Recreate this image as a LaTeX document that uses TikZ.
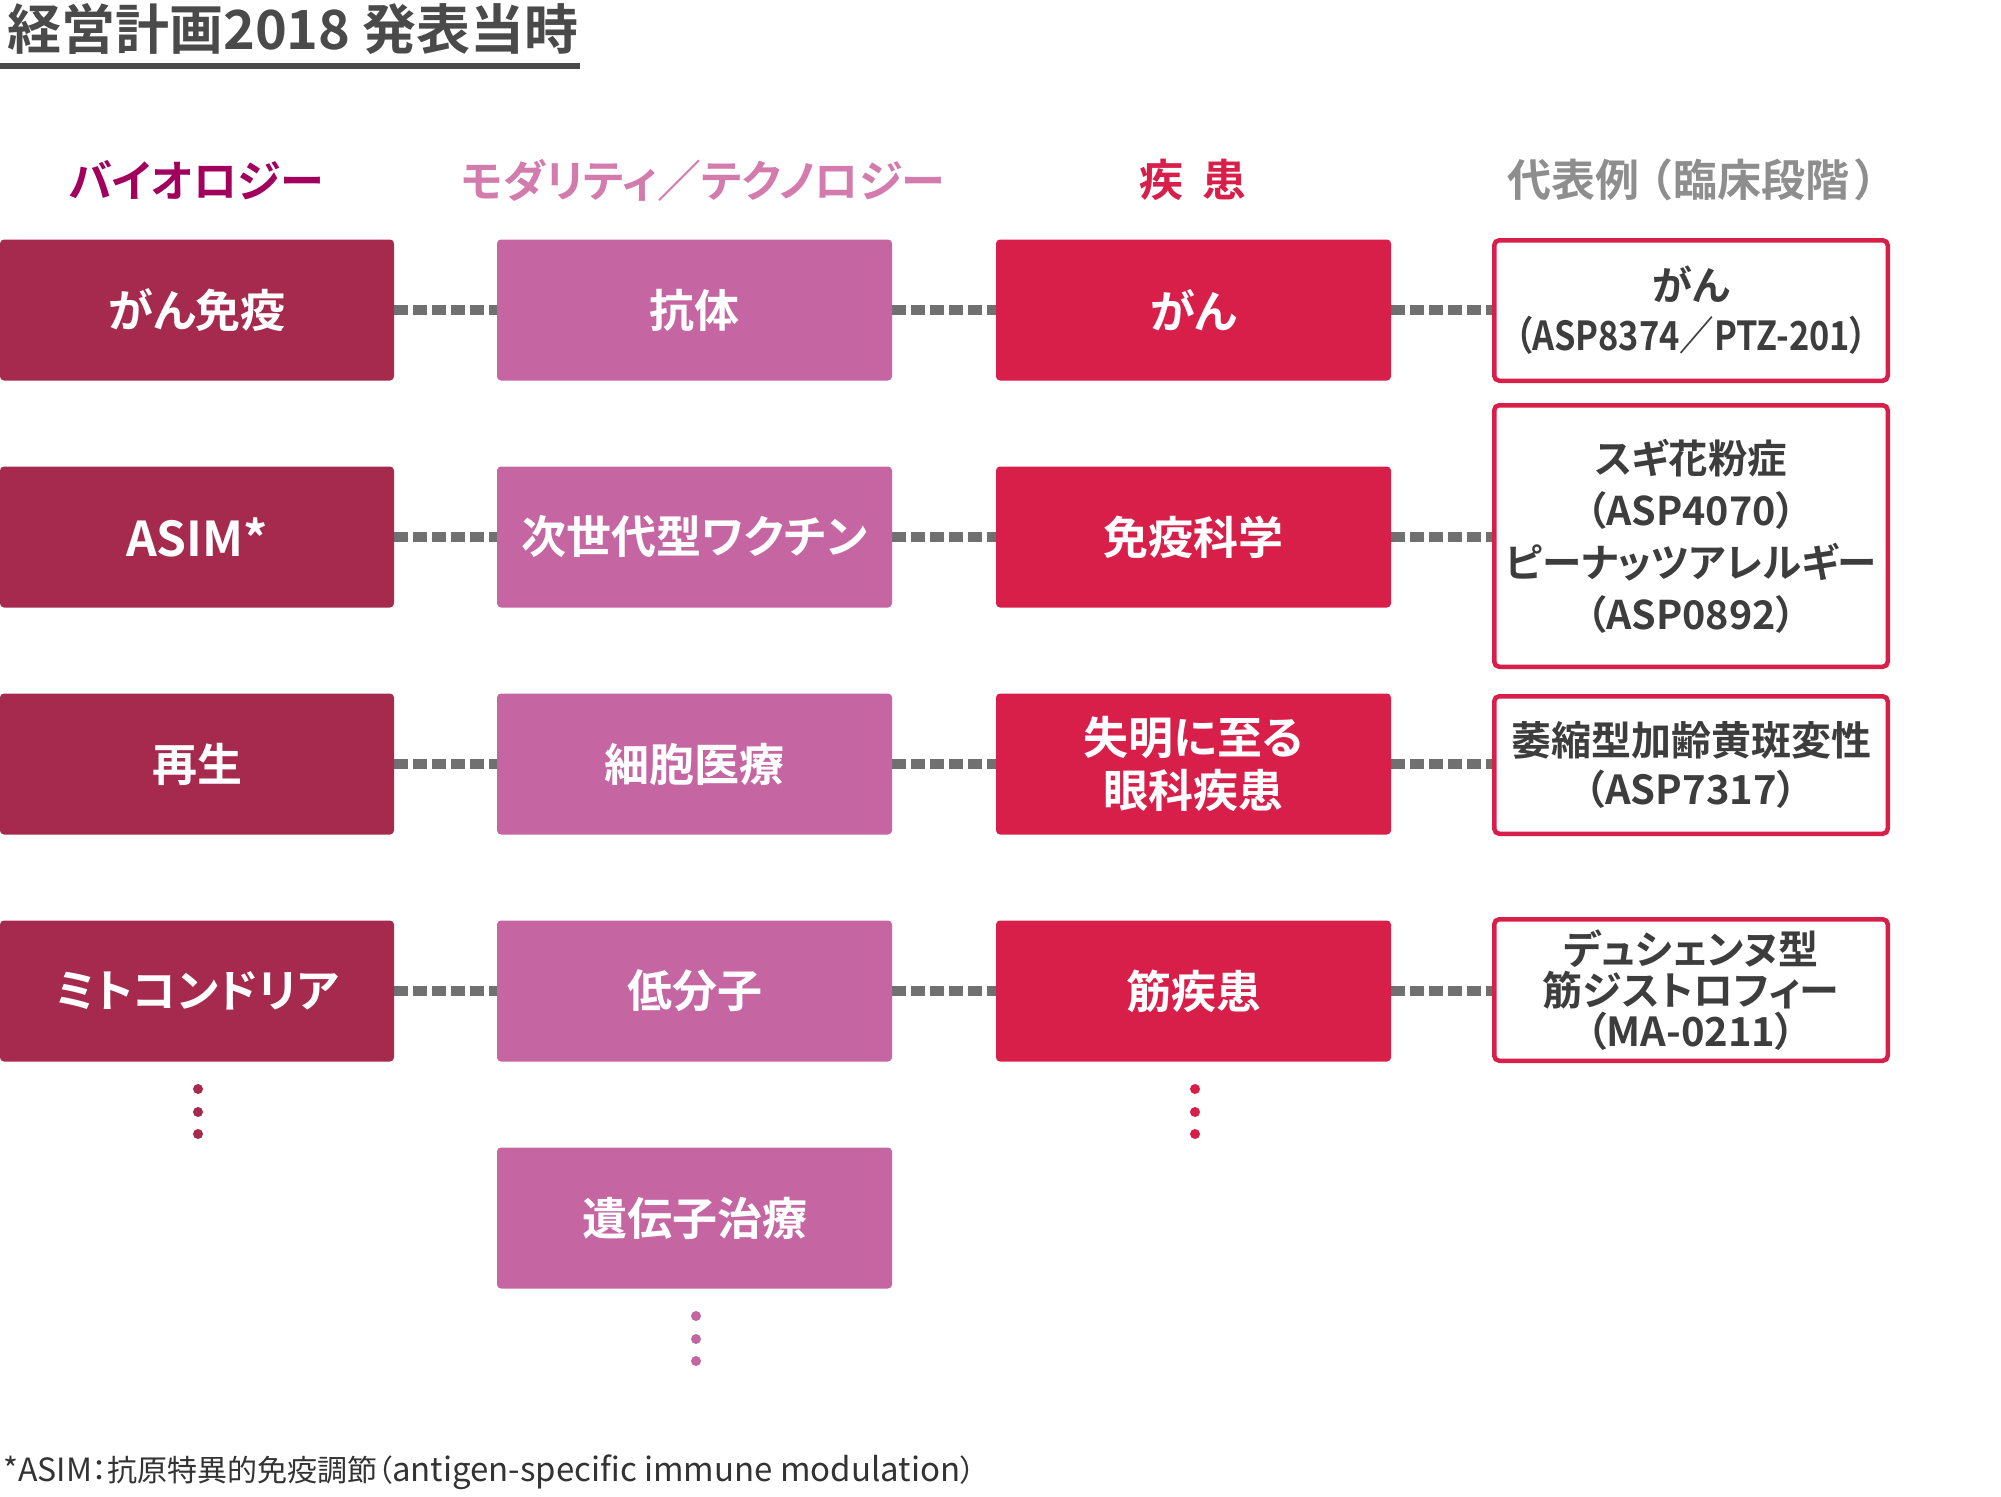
\documentclass[tikz,border=0pt]{standalone}
\usepackage{fontspec}
\setmainfont{Noto Sans CJK JP}[BoldFont={Noto Sans CJK JP Bold},RawFeature=+palt]
\usetikzlibrary{backgrounds}
\definecolor{bioC}{HTML}{A62A4E}
\definecolor{modC}{HTML}{C566A3}
\definecolor{disC}{HTML}{D81F4A}
\definecolor{bioH}{HTML}{A1005D}
\definecolor{modH}{HTML}{D47BAE}
\definecolor{exH}{HTML}{8E8E8E}
\definecolor{linkC}{HTML}{707070}
\definecolor{titleC}{HTML}{4A4A4A}
\definecolor{txtC}{HTML}{3D3D3D}
\definecolor{fnC}{HTML}{333333}
\begin{document}
\begin{tikzpicture}[x=1pt,y=-1pt,
  box/.style={minimum width=395pt, minimum height=141pt, inner sep=0pt, outer sep=0pt,
    rounded corners=4pt, text=white, align=center,
    font=\bfseries\fontsize{45}{53}\selectfont},
  cbio/.style={box, fill=bioC, minimum width=394pt},
  cmod/.style={box, fill=modC},
  cdis/.style={box, fill=disC},
  exbox/.style={draw=disC, line width=4.5pt, fill=white, minimum width=393.5pt,
    rounded corners=5pt, inner sep=0pt, outer sep=0pt, text=txtC, align=center},
  link/.style={draw=linkC, line width=10pt, dash pattern=on 14pt off 5pt},
  hdr/.style={font=\bfseries\fontsize{44}{50}\selectfont, inner sep=0pt},
  vdot/.style={circle, minimum size=10pt, inner sep=0pt}]
\useasboundingbox (0,0) rectangle (2001,1496);

% title
\node[anchor=base west, inner sep=0pt, text=titleC, font=\bfseries\fontsize{54}{60}\selectfont] (title) at (7,49) {経営計画2018 発表当時};
\coordinate (ulA) at (0,66);
\coordinate (ulB) at (580,66);
\draw[titleC, line width=6pt] (ulA) -- (ulB);

% headers
\node[hdr, text=bioH] (h1) at (196,180) {バイオロジー};
\node[hdr, text=modH] (h2) at (703,180) {モダリティ／テクノロジー};
\node[hdr, text=disC] (h3) at (1193,180) {疾\hspace{0.45em}患};
\node[hdr, text=exH] (h4) at (1692,180) {代表例\hspace{0.25em}（\hspace{0.04em}臨床段階\hspace{0.12em}）};

% biology
\node[cbio] (b1) at (197,310) {がん免疫};
\node[cbio, font=\bfseries\fontsize{48}{53}\selectfont] (b2) at (197,537) {ASIM*};
\node[cbio] (b3) at (197,764) {再生};
\node[cbio] (b4) at (197,991) {ミトコンドリア};

% modality
\node[cmod] (m1) at (694.5,310) {抗体};
\node[cmod] (m2) at (694.5,537) {次世代型ワクチン};
\node[cmod] (m3) at (694.5,764) {細胞医療};
\node[cmod] (m4) at (694.5,991) {低分子};
\node[cmod] (m5) at (694.5,1218) {遺伝子治療};

% disease
\node[cdis] (d1) at (1193.5,310) {がん};
\node[cdis] (d2) at (1193.5,537) {免疫科学};
\node[cdis] (d3) at (1193.5,764) {失明に至る\\眼科疾患};
\node[cdis] (d4) at (1193.5,991) {筋疾患};

% examples
\node[exbox, minimum height=140.5pt, font=\bfseries\fontsize{40}{50}\selectfont] (e1) at (1691,310.5) {がん\\\scalebox{0.86}[1]{（ASP8374／PTZ-201）}};
\node[exbox, minimum height=261.5pt, font=\bfseries\fontsize{39.5}{52}\selectfont] (e2) at (1691,536) {スギ花粉症\\（ASP4070）\\ピーナッツアレルギー\\（ASP0892）};
\node[exbox, minimum height=137.5pt, font=\bfseries\fontsize{40}{49}\selectfont] (e3) at (1691,765) {萎縮型加齢黄斑変性\\（ASP7317）};
\node[exbox, minimum height=141.5pt, font=\bfseries\fontsize{40}{41}\selectfont] (e4) at (1691,990) {デュシェンヌ型\\筋ジストロフィー\\（MA-0211）};

% continuation dots
\node[vdot, fill=bioC] (pb1) at (198,1089) {};
\node[vdot, fill=bioC] (pb2) at (198,1112) {};
\node[vdot, fill=bioC] (pb3) at (198,1134) {};
\node[vdot, fill=disC] (pd1) at (1195,1089) {};
\node[vdot, fill=disC] (pd2) at (1195,1112) {};
\node[vdot, fill=disC] (pd3) at (1195,1134) {};
\node[vdot, fill=modC] (pm1) at (696,1316) {};
\node[vdot, fill=modC] (pm2) at (696,1339) {};
\node[vdot, fill=modC] (pm3) at (696,1361) {};

% footnote
\node[anchor=base west, inner sep=0pt, text=fnC, font=\fontsize{30}{36}\selectfont] (fn) at (3,1481) {{\fontsize{32}{36}\selectfont *ASIM}：抗原特異的免疫調節（{\fontsize{33}{36}\selectfont antigen-specific immune modulation}）};

% connectors
\begin{scope}[on background layer]
\foreach \a/\b in {b1/m1,b2/m2,b3/m3,b4/m4,m1/d1,m2/d2,m3/d3,m4/d4}
  \draw[link] (\a.east) -- (\b.west);
\foreach \a/\b in {d1/e1,d2/e2,d3/e3,d4/e4}
  \draw[link] (\a.east) -- (\a.east -| \b.west);
\end{scope}
\end{tikzpicture}
\end{document}
